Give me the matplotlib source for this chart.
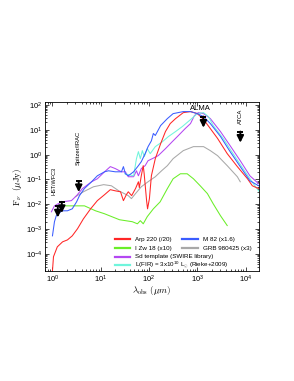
import numpy as np
import matplotlib
matplotlib.use('Agg')
import matplotlib.pyplot as plt
from matplotlib.ticker import LogLocator, NullFormatter
from matplotlib.transforms import ScaledTranslation

plt.rcParams['font.family'] = ['Liberation Sans', 'DejaVu Sans']
plt.rcParams['mathtext.fontset'] = 'custom'
plt.rcParams['mathtext.rm'] = 'Liberation Sans'
plt.rcParams['mathtext.it'] = 'Liberation Sans:italic'
plt.rcParams['mathtext.bf'] = 'Liberation Sans:bold'

# ---------------- data (observed wavelength in micron, flux in micro-Jy) -------------
arp220_lam = [0.98, 1.00, 1.05, 1.26, 1.62, 2.04, 2.57, 3.31, 4.37, 6.17, 8.51, 12.0, 15.8,
              20.0, 25.7, 29.5, 33.9, 37.2, 43.7, 52.5, 60.3, 63.1, 69.2, 75.9, 79.4, 89.1,
              93.3, 102, 112, 135, 174, 219, 275, 355, 513, 724, 1000, 1349, 1862, 2630,
              4169, 6761, 10960, 13800, 18600]
arp220_f = [1.0e-5, 2.1e-5, 7.8e-5, 1.95e-4, 3.1e-4, 3.7e-4, 5.4e-4, 1.05e-3, 2.6e-3, 6.6e-3,
            0.0141, 0.0245, 0.039, 0.035, 0.032, 0.0141, 0.0245, 0.032, 0.0224, 0.043, 0.081,
            0.047, 0.141, 0.36, 0.17, 0.0141, 0.0066, 0.017, 0.141, 0.69, 2.75, 8.5, 17.8,
            28.2, 49, 54, 45, 26, 11.2, 4.5, 1.1, 0.33, 0.107, 0.056, 0.043]

m82_lam = [1.00, 1.10, 1.20, 1.55, 2.04, 2.57, 3.16, 3.63, 4.57, 6.46, 8.51, 12.0, 14.5, 20.0,
           26.9, 29.5, 32.4, 37.2, 47.9, 60.3, 69.2, 83.2, 95.5, 112, 123, 135, 174, 240, 316,
           513, 724, 1000, 1349, 1862, 3020, 4786, 7762, 12300, 18600]
m82_f = [5.4e-4, 2.0e-3, 3.5e-3, 5.5e-3, 5.5e-3, 6.6e-3, 0.0126, 0.0224, 0.043, 0.081, 0.141,
         0.204, 0.224, 0.204, 0.204, 0.33, 0.17, 0.141, 0.204, 0.36, 0.52, 1.10, 2.09, 3.6, 7.1,
         5.9, 14.8, 28.2, 44.7, 54, 54, 44.7, 34, 17.8, 5.4, 1.32, 0.33, 0.089, 0.056]

sd_lam = [0.95, 1.10, 1.55, 2.47, 3.16, 4.17, 6.46, 8.51, 12.0, 15.8, 20.0, 26.9, 32.4, 37.2,
          47.9, 55.0, 60.3, 69.2, 83.2, 95.5, 117, 155, 219, 302, 407, 562, 724, 870, 1047,
          1349, 1862, 3020, 4786, 7762, 12300, 18600]
sd_f = [5.0e-3, 8.7e-3, 0.0126, 0.0141, 0.0224, 0.043, 0.081, 0.107, 0.204, 0.33, 0.275,
        0.204, 0.204, 0.129, 0.129, 0.224, 0.141, 0.275, 0.36, 0.57, 0.69, 0.91, 1.74, 3.3,
        5.9, 11.2, 17.8, 37, 49, 44.7, 28.2, 8.5, 2.3, 0.57, 0.141, 0.068]

lfir_lam = [31.6, 47.9, 55.0, 60.3, 66.1, 72.8, 79.8, 92.0, 106, 135, 189, 251, 355, 490, 724,
            1000, 1349, 1698, 2138, 3467, 5495, 8913, 14500, 19300]
lfir_f = [0.17, 0.141, 0.69, 1.32, 0.69, 1.45, 0.83, 1.74, 1.10, 2.1, 3.3, 5.3, 8.5, 13.5,
          25.7, 44.7, 49, 34, 14.8, 4.4, 1.10, 0.27, 0.068, 0.032]

grb_lam = [3.0, 4.37, 7.08, 11.5, 16.6, 23.4, 37.2, 43.2, 52.5, 69.2, 95.5, 135, 182, 240, 316,
           513, 832, 1349, 1862, 2630, 4169, 6761, 7762]
grb_f = [0.0204, 0.032, 0.051, 0.062, 0.056, 0.0355, 0.0224, 0.017, 0.027, 0.051, 0.081, 0.129,
         0.224, 0.36, 0.69, 1.45, 2.1, 2.1, 1.45, 0.91, 0.36, 0.129, 0.081]

izw18_lam = [1.33, 4.6, 7.8, 11.9, 24.5, 45.1, 57.5, 66.1, 76, 92, 123, 170, 240, 316, 447,
             617, 832, 1148, 1622, 2138, 3020, 4169]
izw18_f = [8.7e-3, 8.7e-3, 5.5e-3, 4.2e-3, 2.4e-3, 2.0e-3, 1.65e-3, 2.2e-3, 1.65e-3, 3.2e-3,
           6.6e-3, 0.0126, 0.043, 0.107, 0.17, 0.17, 0.107, 0.056, 0.027, 0.0105, 3.5e-3, 1.4e-3]

# upper limits
lim_lam = [1.29, 1.56, 3.5, 1340, 7800]
lim_f = [0.0083, 0.0126, 0.087, 34, 8.5]

# instrument labels
inst_names = ['HST/WFC3', 'Spitzer/IRAC', 'ALMA', 'ATCA']

# legend
leg_col1 = ['Arp 220 (/20)', 'I Zw 18 (x10)', 'Sd template (SWIRE library)',
            r'L(FIR) = 3x10$^{10}$ L$_{\odot}$ (Rieke+2009)']
leg_col2 = ['M 82 (x1.6)', 'GRB 980425 (x3)']

c_red = '#ff2626'
c_green = '#6aee28'
c_blue = '#3a5cff'
c_gray = '#a8a8a8'
c_purple = '#b447f2'
c_cyan = '#70f5dc'

fig = plt.figure(figsize=(2.94, 3.81), dpi=100)
ax = fig.add_axes([0.153, 0.289, 0.728, 0.443])
ax.set_xscale('log')
ax.set_yscale('log')

lw = 0.75
ax.plot(grb_lam, grb_f, color=c_gray, lw=lw)
ax.plot(izw18_lam, izw18_f, color=c_green, lw=lw)
ax.plot(sd_lam, sd_f, color=c_purple, lw=lw)
ax.plot(lfir_lam, lfir_f, color=c_cyan, lw=lw)
ax.plot(arp220_lam, arp220_f, color=c_red, lw=lw)
ax.plot(m82_lam, m82_f, color=c_blue, lw=lw)

# upper-limit arrows
down = ax.transData + ScaledTranslation(0, -8 / 72, fig.dpi_scale_trans)
for xl, yl in zip(lim_lam, lim_f):
    ax.plot([xl], [yl], marker='_', ms=5, mew=1.4, color='k', zorder=10)
    ax.annotate('', xy=(xl, yl), xycoords=down, xytext=(xl, yl), textcoords='data',
                arrowprops=dict(arrowstyle='-|>', color='k', lw=1.4, mutation_scale=10,
                                shrinkA=0, shrinkB=0), zorder=10)

ax.text(1.10, 0.0245, inst_names[0], rotation=90, ha='center', va='bottom', fontsize=4.0)
ax.text(3.45, 0.40, inst_names[1], rotation=90, ha='center', va='bottom', fontsize=4.2)
ax.text(1150, 71, inst_names[2], ha='center', va='center', fontsize=5.5)
ax.text(7950, 36, inst_names[3], rotation=90, ha='center', va='center', fontsize=4.3)

# manual two-column legend
rows_y = [0.188, 0.134, 0.085, 0.036]
col1_colors = [c_red, c_green, c_purple, c_cyan]
for yy, lab, col in zip(rows_y, leg_col1, col1_colors):
    ax.plot([0.327, 0.397], [yy, yy], color=col, lw=1.6, transform=ax.transAxes)
    ax.text(0.421, yy, lab, transform=ax.transAxes, ha='left', va='center', fontsize=4.5)
col2_colors = [c_blue, c_gray]
for yy, lab, col in zip(rows_y[:2], leg_col2, col2_colors):
    ax.plot([0.640, 0.713], [yy, yy], color=col, lw=1.6, transform=ax.transAxes)
    ax.text(0.738, yy, lab, transform=ax.transAxes, ha='left', va='center', fontsize=4.5)

ax.set_xlim(0.7, 1.9e4)
ax.set_ylim(2.1e-5, 130)

ax.xaxis.set_major_locator(LogLocator(base=10, numticks=15))
ax.yaxis.set_major_locator(LogLocator(base=10, numticks=15))
ax.xaxis.set_minor_locator(LogLocator(base=10, subs=np.arange(2, 10), numticks=30))
ax.yaxis.set_minor_locator(LogLocator(base=10, subs=np.arange(2, 10), numticks=30))
ax.xaxis.set_minor_formatter(NullFormatter())
ax.yaxis.set_minor_formatter(NullFormatter())
ax.tick_params(which='both', direction='in', top=True, right=True, labelsize=5.5, width=0.5,
               pad=2)
ax.tick_params(which='major', length=3)
ax.tick_params(which='minor', length=1.5)
for sp in ax.spines.values():
    sp.set_linewidth(0.6)

ax.set_xlabel(r'$\lambda_{\rm obs}\ (\mu m)$', fontsize=6.5, math_fontfamily='cm')
ax.set_ylabel(r'$\mathrm{F}_\nu\ \ (\mu\mathrm{Jy})$', fontsize=6.5, math_fontfamily='cm')
ax.xaxis.set_label_coords(0.5, -0.075)
ax.yaxis.set_label_coords(-0.10, 0.5)

fig.savefig('out.png', dpi=100)
